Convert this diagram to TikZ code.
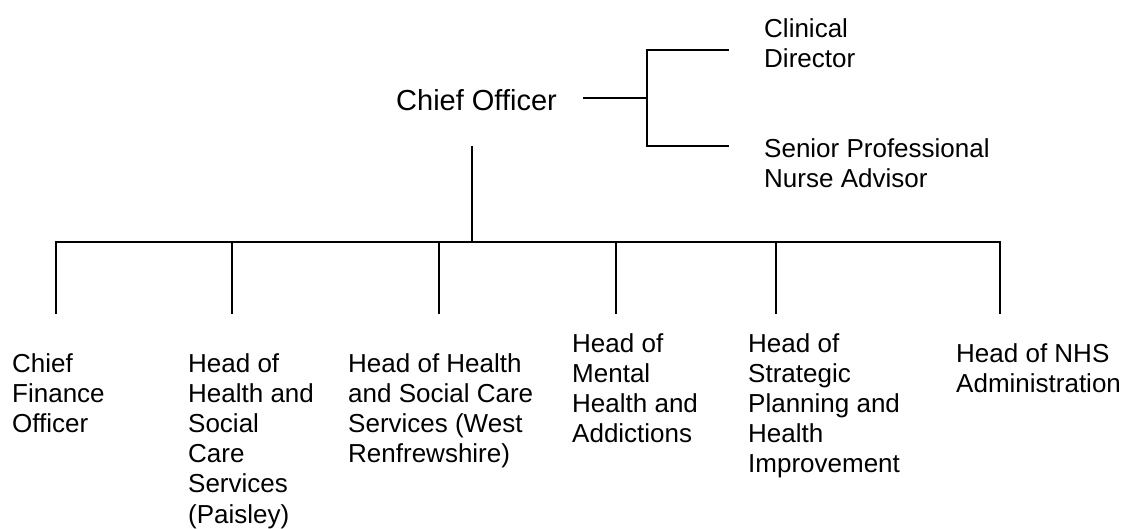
\documentclass[tikz,border=0pt]{standalone}
\usepackage{fontspec}
\setmainfont{Liberation Sans}
\tikzset{
  post/.style={font=\fontsize{26}{30.1}\selectfont,align=left,anchor=north west,inner sep=0pt},
  link/.style={line width=1.5pt}
}
\begin{document}
\begin{tikzpicture}[x=1pt,y=-1pt,line join=miter]
  \fill[white] (0,0) rectangle (1125,529);
  \useasboundingbox (0,0) rectangle (1125,529);
  % top of the chart
  \node (co) [font=\fontsize{29}{34}\selectfont,inner sep=0pt,anchor=base] at (476.5,111) {Chief Officer};
  \node (cd) [post] at (764,18) {Clinical\\Director};
  \node (spn) [post] at (764,138) {Senior Professional\\Nurse Advisor};
  % the heads below
  \node (cfo) [post] at (12,353.5) {Chief\\Finance\\Officer};
  \node (hpa) [post] at (188,353.5) {Head of\\Health and\\Social\\Care\\Services\\(Paisley)};
  \node (hwr) [post] at (348,353.5) {Head of Health\\and Social Care\\Services (West\\Renfrewshire)};
  \node (hmh) [post] at (572,333) {Head of\\Mental\\Health and\\Addictions};
  \node (hsp) [post] at (748,333) {Head of\\Strategic\\Planning and\\Health\\Improvement};
  \node (hnhs) [post] at (956,343) {Head of NHS\\Administration};
  % ends of the lines
  \coordinate (coe) at (583,98);
  \coordinate (sj) at (647,98);
  \coordinate (cda) at (729,50);
  \coordinate (spa) at (729,146);
  \coordinate (cob) at (472,146);
  \coordinate (hub) at (472,242);
  \foreach \n/\x in {cfo/56,hpa/232,hwr/439,hmh/616,hsp/776,hnhs/1000}
    \coordinate (\n-top) at (\x,314);
  % lines
  \draw[link] (coe) -- (sj);
  \draw[link] (cda) -| (sj) |- (spa);
  \draw[link] (cob) -- (hub);
  \draw[link] (cfo-top) |- (hub) -| (hnhs-top);
  \foreach \n in {hpa,hwr,hmh,hsp}
    \draw[link] (\n-top) -- (\n-top |- hub);
\end{tikzpicture}
\end{document}
